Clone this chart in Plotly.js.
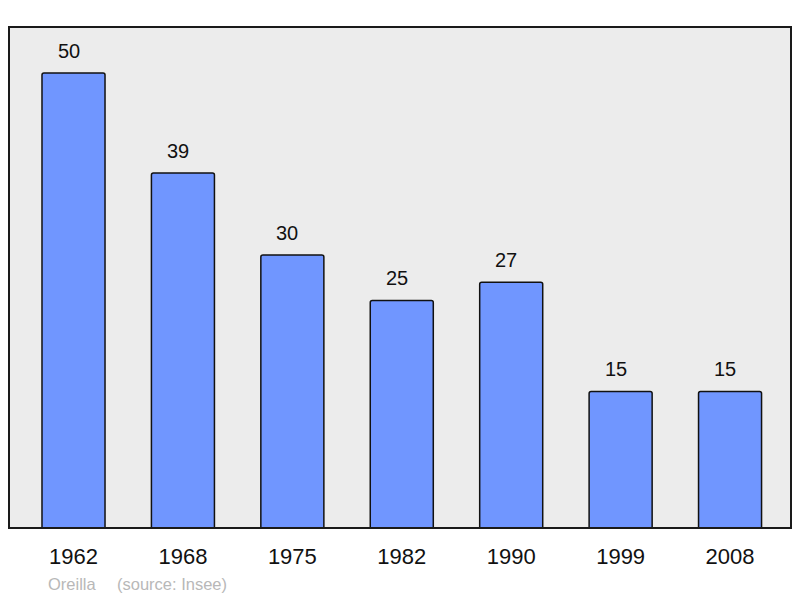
<!DOCTYPE html>
<html>
<head>
<meta charset="utf-8">
<script src="https://cdn.plot.ly/plotly-3.0.1.min.js"></script>
<style>html,body{margin:0;padding:0;background:#fff;}#chart{width:800px;height:598px;}</style>
</head>
<body>
<div id="chart"></div>
<script>
const years = ["1962", "1968", "1975", "1982", "1990", "1999", "2008"];
const population = [50, 39, 30, 25, 27, 15, 15];
const footerName = "Oreilla";
const footerSource = "(source: Insee)";

const annotations = years.map((y, i) => ({
  x: i, y: population[i], xref: 'x', yref: 'y',
  text: String(population[i]), showarrow: false,
  yanchor: 'middle', yshift: 22, xshift: -5,
  font: {family: 'Liberation Sans, Arial, sans-serif', size: 20, color: '#111'}
}));
annotations.push({
  xref: 'paper', yref: 'paper', x: 37/782, y: -56/501,
  xanchor: 'left', yanchor: 'middle', showarrow: false,
  text: footerName,
  font: {family: 'Liberation Sans, Arial, sans-serif', size: 16.5, color: '#b8b8b8'}
});
annotations.push({
  xref: 'paper', yref: 'paper', x: 106/782, y: -56/501,
  xanchor: 'left', yanchor: 'middle', showarrow: false,
  text: footerSource,
  font: {family: 'Liberation Sans, Arial, sans-serif', size: 16.5, color: '#b8b8b8'}
});

Plotly.newPlot('chart', [{
  type: 'bar', x: years, y: population, width: 0.576,
  marker: {color: '#7096ff', line: {color: '#111', width: 1.5}, cornerradius: 2},
  hoverinfo: 'none'
}], {
  width: 800, height: 598,
  margin: {l: 9, r: 9, t: 27, b: 70, pad: 0},
  paper_bgcolor: '#ffffff', plot_bgcolor: '#ececec',
  showlegend: false,
  xaxis: {type: 'category', range: [-0.5895, 6.557], showgrid: false, zeroline: false,
    showline: false, ticks: '', ticklabelstandoff: 13,
    tickfont: {family: 'Liberation Sans, Arial, sans-serif', size: 22, color: '#111'}},
  yaxis: {range: [0, 55.05], showgrid: false, zeroline: false, showline: false,
    showticklabels: false, ticks: ''},
  shapes: [{type: 'rect', xref: 'paper', yref: 'paper', x0: 0, x1: 1, y0: 0, y1: 1,
    line: {color: '#1a1a1a', width: 2}, fillcolor: 'rgba(0,0,0,0)', layer: 'above'}],
  annotations: annotations
}, {staticPlot: true});
</script>
</body>
</html>
